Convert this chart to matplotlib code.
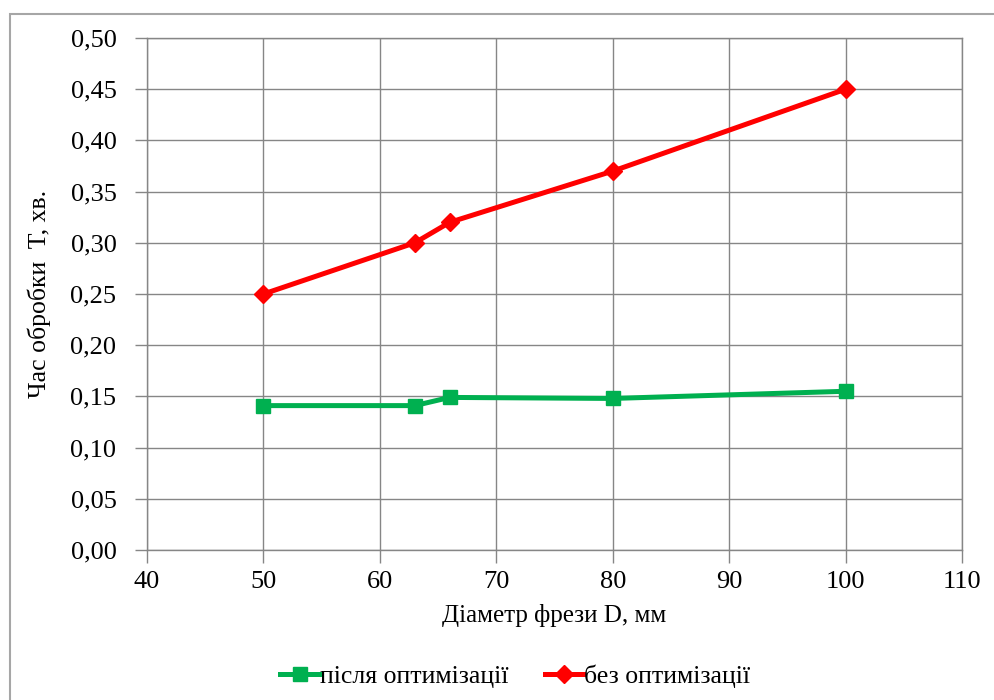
import numpy as np
import matplotlib.pyplot as plt
from matplotlib.patches import Rectangle

plt.rcParams['font.family'] = ['Liberation Serif', 'DejaVu Serif']

# diameter of the cutter, mm
diameter = [50, 63, 66, 80, 100]
# processing time, min
t_after = [0.141, 0.141, 0.149, 0.148, 0.155]
t_before = [0.25, 0.30, 0.32, 0.37, 0.45]

x_ticks = list(range(40, 111, 10))
y_ticks = [i * 0.05 for i in range(11)]

fig = plt.figure(figsize=(9.94, 7), dpi=100)
ax = fig.add_axes([0.1479, 0.2143, 0.8199, 0.7314])

# outer chart border like in Excel
fig.patches.append(Rectangle((10 / 994, -0.1), 1.2, (700 - 14) / 700 + 0.1,
                             transform=fig.transFigure, fill=False,
                             edgecolor='#a6a6a6', linewidth=1.5))

ax.plot(diameter, t_after, color='#00b050', linewidth=3.6, marker='s',
        markersize=10.5, label='після оптимізації', zorder=3)
ax.plot(diameter, t_before, color='#ff0000', linewidth=3.6, marker='D',
        markersize=9.5, label='без оптимізації', zorder=3)

ax.set_xlim(40, 110)
ax.set_ylim(0, 0.5)
ax.set_xticks(x_ticks)
ax.set_yticks(y_ticks)
ax.set_yticklabels([f'{v:.2f}'.replace('.', ',') for v in y_ticks])
ax.tick_params(labelsize=19, length=9, width=1, color='#868686')
ax.tick_params(axis='y', pad=13)
ax.tick_params(axis='x', pad=6)
ax.grid(True, color='#868686', linewidth=1)
ax.set_axisbelow(True)
for s in ax.spines.values():
    s.set_color('#868686')
    s.set_linewidth(1)

ax.set_xlabel('Діаметр фрези D, мм', fontsize=18, labelpad=8)
ax.set_ylabel('Час обробки  T, хв.', fontsize=18.5, labelpad=14)

fig.legend(loc='center', bbox_to_anchor=(0.5186, 0.034), ncol=2, frameon=False,
           fontsize=18.5, handlelength=1.5, handletextpad=0.05, columnspacing=1.4)

plt.savefig('out.png', dpi=100)
